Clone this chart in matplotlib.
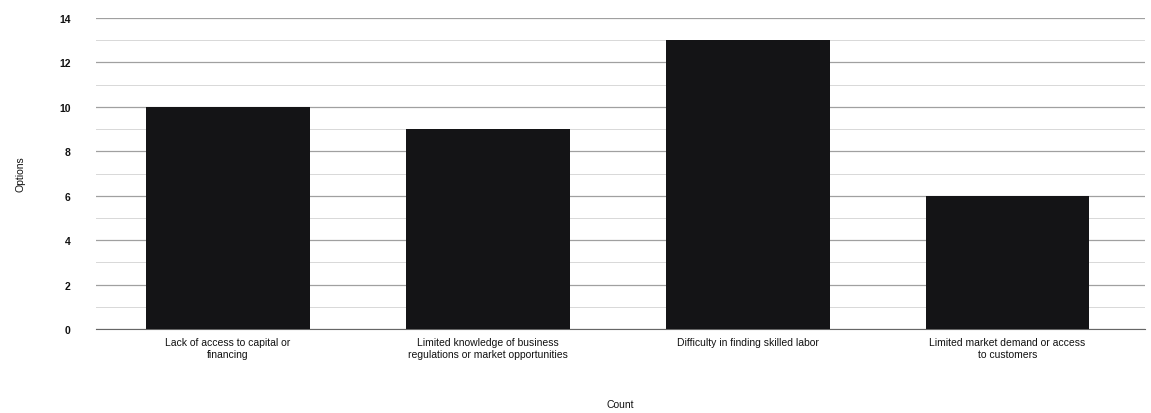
import matplotlib.pyplot as plt
import numpy as np

plt.rcParams['font.family'] = ['Liberation Sans', 'DejaVu Sans']

categories = ['Lack of access to capital or\nfinancing',
              'Limited knowledge of business\nregulations or market opportunities',
              'Difficulty in finding skilled labor',
              'Limited market demand or access\nto customers']
counts = [10, 9, 13, 6]

fig = plt.figure(figsize=(11.51, 4.14), dpi=100)
ax = fig.add_axes([0.083, 0.203, 0.912, 0.751])

x = np.arange(len(categories))
ax.bar(x, counts, width=0.63, color='#141416', zorder=3)

ax.set_ylim(0, 14)
ax.set_xlim(-0.51, 3.53)
ax.set_yticks(np.arange(0, 15, 2))
ax.set_yticks(np.arange(1, 14, 2), minor=True)
ax.grid(axis='y', which='major', color='#a0a0a0', linewidth=0.9, zorder=0)
ax.grid(axis='y', which='minor', color='#d8d8d8', linewidth=0.7, zorder=0)
ax.set_xticks(x)
ax.set_xticklabels(categories, fontsize=7.5, color='#111111')
for lbl in ax.get_yticklabels():
    lbl.set_fontweight('bold')
ax.tick_params(axis='y', labelsize=7.5, length=0, pad=18, colors='#111111')
ax.tick_params(axis='y', which='minor', length=0)
ax.tick_params(axis='x', length=0, pad=6)

for s in ['top', 'right', 'left']:
    ax.spines[s].set_visible(False)
ax.spines['bottom'].set_color('#666666')

ax.set_ylabel('Options', fontsize=7.5, labelpad=24, color='#111111')
ax.set_xlabel('Count', fontsize=7.5, labelpad=29, color='#111111')

plt.savefig('out.png', dpi=100)
